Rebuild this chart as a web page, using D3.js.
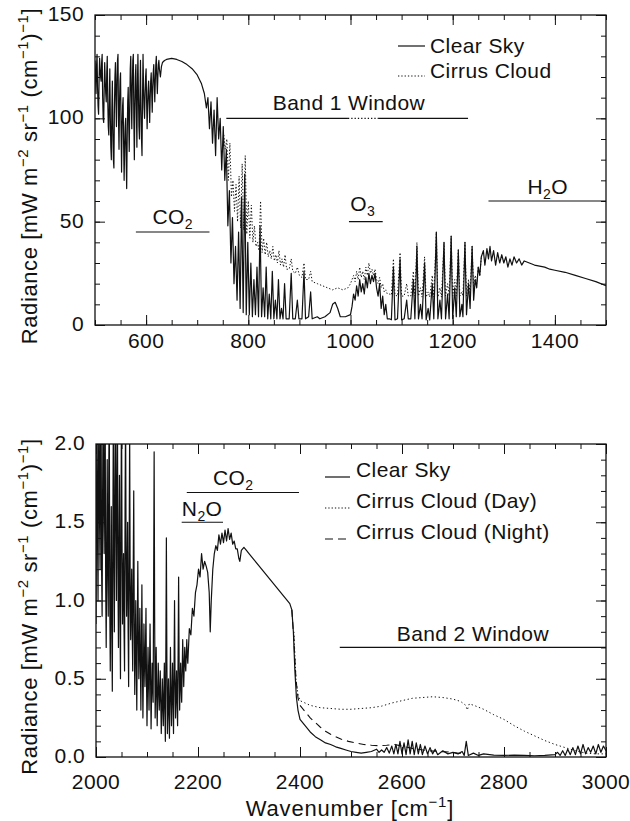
<!DOCTYPE html>
<html><head><meta charset="utf-8">
<script src="https://cdn.jsdelivr.net/npm/d3@7"></script>
<style>
body{margin:0;background:#fff;}
text{font-family:"Liberation Sans",Arial,sans-serif;fill:#111;}
</style></head>
<body><svg id="c" width="630" height="821"></svg>
<script>
// ---------------- DATA ----------------
// Top panel: wavenumber (cm^-1) vs radiance (mW m^-2 sr^-1 (cm^-1)^-1)
const clearSky1 = [[500,128],[501,120],[502,112],[503,125],[504,131],[505,115],[506,106],[507,102],[508,118],[509,129],[510,124],[511,120],[512,118],[513,127],[514,131],[515,110],[516,100],[517,98],[518,115],[519,127],[520,118],[521,112],[522,108],[523,122],[524,130],[525,108],[526,96],[527,92],[528,110],[529,124],[530,100],[531,86],[532,80],[533,104],[534,118],[535,95],[536,80],[537,76],[538,105],[539,120],[540,127],[541,108],[542,96],[543,118],[544,128],[545,131],[546,100],[547,85],[548,108],[549,118],[550,122],[551,95],[552,74],[553,96],[554,106],[555,110],[556,88],[557,70],[558,85],[559,96],[560,100],[561,80],[562,66],[563,90],[564,108],[565,115],[566,98],[567,84],[568,105],[569,124],[570,130],[571,110],[572,95],[573,115],[574,128],[575,131],[576,100],[577,80],[578,105],[579,120],[580,126],[581,104],[582,86],[583,115],[584,131],[585,112],[586,96],[587,90],[588,112],[589,128],[590,104],[591,90],[592,82],[593,110],[594,131],[595,115],[596,105],[597,100],[598,112],[599,120],[600,124],[601,108],[602,95],[603,106],[604,114],[605,118],[606,108],[607,98],[608,110],[609,118],[610,122],[611,112],[612,103],[613,115],[614,122],[615,126],[616,116],[617,108],[618,118],[619,126],[620,130],[621,120],[622,112],[623,120],[624,126],[625,128],[626,124],[628,120],[630,125],[632,127],[636,128],[640,128.5],[650,129],[660,128.5],[670,127.5],[680,126],[690,124],[700,121],[708,117],[714,112],[718,105],[721,110],[724,95],[727,108],[730,88],[733,104],[736,82],[739,110],[742,90],[745,100],[748,75],[751,96],[754,70],[757,85],[760,48],[763,65],[766,30],[769,52],[772,20],[775,38],[778,12],[781,45],[784,8],[787,62],[790,6],[793,73],[796,5],[799,40],[802,5],[805,30],[808,4],[811,22],[814,5],[817,28],[820,4],[823,48],[826,4],[829,18],[832,4],[835,28],[838,3],[841,15],[844,3],[847,26],[850,3],[853,12],[856,3],[859,22],[862,3],[865,8],[868,3],[871,20],[874,3],[880,3],[884,25],[887,3],[892,3],[896,12],[899,3],[905,3],[909,26],[912,3],[918,4],[922,16],[925,3],[935,4],[940,3],[950,4],[960,6],[965,10],[970,11],[975,8],[980,4],[990,4],[1000,5],[1003,9],[1006,15],[1009,12],[1012,19],[1015,14],[1018,22],[1021,16],[1024,20],[1027,15],[1030,23],[1033,18],[1036,25],[1039,20],[1042,24],[1045,21],[1048,25],[1051,18],[1054,14],[1057,20],[1060,8],[1063,14],[1066,5],[1069,10],[1072,3],[1076,3],[1080,2.5],[1084,28],[1087,2.5],[1092,3],[1097,32],[1100,2.5],[1105,3],[1110,12],[1113,3],[1118,3],[1123,22],[1126,3],[1130,38],[1133,3],[1137,10],[1140,3],[1145,30],[1148,2.5],[1152,8],[1155,2.5],[1160,20],[1163,3],[1168,45],[1171,3],[1175,12],[1178,3],[1183,40],[1186,3],[1190,15],[1193,3],[1197,43],[1200,3],[1204,18],[1207,4],[1211,36],[1214,4],[1218,10],[1220,4],[1224,40],[1227,5],[1231,20],[1234,8],[1238,38],[1241,12],[1244,22],[1247,18],[1250,28],[1253,24],[1256,33],[1260,36],[1263,29],[1267,37],[1270,32],[1273,38],[1276,31],[1280,36],[1284,29],[1288,35],[1292,30],[1296,34],[1300,30],[1304,33],[1308,28],[1312,32],[1316,29],[1320,33],[1325,30],[1330,32],[1335,29],[1340,31],[1350,30],[1360,29],[1370,28.5],[1380,28],[1390,27],[1400,26.5],[1420,25.5],[1440,24],[1460,22.5],[1480,21],[1500,19]];

const cirrus1 = [[752,92],[755,85],[758,90],[761,70],[764,88],[767,62],[770,70],[773,55],[776,68],[779,50],[782,72],[785,47],[788,78],[791,46],[794,82],[797,44],[800,60],[803,42],[806,58],[809,40],[812,48],[815,38],[818,40],[821,36],[824,60],[827,35],[830,42],[833,34],[836,40],[839,33],[842,36],[845,32],[848,38],[851,31],[854,34],[857,30],[860,36],[863,29],[866,32],[869,28],[872,34],[875,27],[880,27],[884,32],[887,26],[892,25],[896,28],[900,24],[905,23],[909,30],[912,22],[918,22],[922,26],[925,21],[935,20],[945,19],[955,18],[965,17],[975,18],[985,17],[995,18],[1000,20],[1003,22],[1006,24],[1009,21],[1012,26],[1015,22],[1018,28],[1021,23],[1024,26],[1027,22],[1030,28],[1033,24],[1036,30],[1039,25],[1042,27],[1045,24],[1048,27],[1051,22],[1054,20],[1057,23],[1060,18],[1063,20],[1066,16],[1069,17],[1072,15],[1076,15],[1080,14.5],[1084,32],[1087,14.5],[1092,14],[1097,35],[1100,14],[1105,14],[1110,20],[1113,14],[1118,14],[1123,26],[1126,14],[1130,40],[1133,14],[1137,18],[1140,13.5],[1145,33],[1148,13.5],[1152,16],[1155,13.5],[1160,24],[1163,13.5],[1168,45],[1171,13.5],[1175,18],[1178,13.5],[1183,40],[1186,14],[1190,20],[1193,14],[1197,43],[1200,14],[1204,22],[1207,14],[1211,37],[1214,14],[1218,16],[1220,14],[1224,40],[1227,14],[1231,22],[1234,15],[1238,38],[1241,17],[1244,24],[1247,20],[1250,28],[1253,24],[1256,33]];

// Bottom panel
const clearSky2 = [[2000,0.85],[2001,1.6],[2002,2.3],[2003,1.4],[2004,1.0],[2005,1.9],[2006,2.3],[2007,1.5],[2008,1.2],[2009,2.1],[2010,2.2],[2011,1.2],[2012,0.9],[2013,1.7],[2014,2.3],[2015,1.6],[2016,1.3],[2017,2.0],[2018,2.2],[2019,1.1],[2020,0.7],[2021,1.3],[2022,1.9],[2023,1.2],[2024,0.9],[2025,1.8],[2026,2.3],[2027,1.0],[2028,0.55],[2029,1.1],[2030,1.6],[2031,0.8],[2032,0.42],[2033,1.4],[2034,2.2],[2035,1.3],[2036,0.8],[2037,1.7],[2038,2.3],[2039,1.5],[2040,1.0],[2041,1.8],[2042,2.3],[2043,1.2],[2044,0.7],[2045,1.3],[2046,1.8],[2047,0.9],[2048,0.5],[2049,1.5],[2050,2.3],[2051,1.4],[2052,0.85],[2053,1.1],[2054,1.3],[2055,0.8],[2056,0.55],[2057,1.6],[2058,2.2],[2059,1.3],[2060,0.9],[2061,1.2],[2062,1.5],[2063,0.8],[2064,0.45],[2065,1.3],[2066,2.1],[2067,1.1],[2068,0.75],[2069,1.0],[2070,1.2],[2071,0.8],[2072,0.55],[2073,1.2],[2074,1.7],[2075,0.9],[2076,0.4],[2077,0.7],[2078,1.0],[2079,0.6],[2080,0.3],[2081,0.8],[2082,1.25],[2083,0.8],[2084,0.5],[2085,0.7],[2086,0.95],[2087,0.6],[2088,0.3],[2089,0.7],[2090,1.1],[2091,0.6],[2092,0.25],[2093,0.55],[2094,0.85],[2095,0.6],[2096,0.45],[2097,0.7],[2098,0.95],[2099,0.5],[2100,0.2],[2101,0.45],[2102,0.7],[2103,0.5],[2104,0.3],[2105,0.6],[2106,0.85],[2107,0.5],[2108,0.18],[2109,0.4],[2110,0.6],[2111,0.45],[2112,0.35],[2113,1.1],[2114,1.95],[2115,0.9],[2116,0.25],[2117,0.45],[2118,0.7],[2119,0.4],[2120,0.2],[2121,0.4],[2122,0.6],[2123,0.45],[2124,0.3],[2125,0.4],[2126,0.55],[2127,0.35],[2128,0.15],[2129,0.3],[2130,0.5],[2131,0.35],[2132,0.2],[2133,0.4],[2134,0.6],[2135,0.3],[2136,0.1],[2137,0.7],[2138,1.4],[2139,0.6],[2140,0.15],[2141,0.3],[2142,0.5],[2143,0.3],[2144,0.12],[2145,0.4],[2146,0.7],[2147,0.4],[2148,0.2],[2149,0.4],[2150,0.6],[2151,0.35],[2152,0.15],[2153,0.55],[2154,1.0],[2155,0.5],[2156,0.25],[2157,0.4],[2158,0.55],[2159,0.35],[2160,0.2],[2161,0.65],[2162,1.15],[2163,0.6],[2164,0.3],[2165,0.45],[2166,0.6],[2167,0.45],[2168,0.35],[2169,0.55],[2170,0.75],[2171,0.6],[2172,0.45],[2173,0.58],[2174,0.7],[2175,0.6],[2176,0.55],[2177,0.65],[2178,0.75],[2179,0.65],[2180,0.6],[2183,0.82],[2186,0.78],[2189,0.95],[2192,0.9],[2195,1.05],[2198,1.1],[2201,1.2],[2204,1.15],[2207,1.3],[2210,1.2],[2213,1.25],[2216,1.22],[2219,1.18],[2222,1.05],[2224,0.8],[2226,1.0],[2229,1.2],[2232,1.3],[2235,1.35],[2238,1.32],[2241,1.42],[2244,1.36],[2247,1.43],[2250,1.37],[2253,1.45],[2256,1.38],[2259,1.46],[2262,1.39],[2265,1.43],[2268,1.36],[2271,1.38],[2274,1.33],[2277,1.33],[2280,1.27],[2282,1.25],[2285,1.32],[2290,1.34],[2295,1.32],[2300,1.3],[2310,1.26],[2320,1.22],[2330,1.18],[2340,1.14],[2350,1.1],[2360,1.06],[2370,1.02],[2380,0.98],[2384,0.94],[2387,0.8],[2390,0.55],[2393,0.38],[2396,0.3],[2400,0.24],[2410,0.2],[2420,0.16],[2430,0.13],[2440,0.11],[2450,0.09],[2460,0.08],[2470,0.065],[2480,0.055],[2490,0.045],[2500,0.035],[2510,0.03],[2520,0.025],[2530,0.03],[2540,0.035],[2550,0.05],[2555,0.03],[2560,0.045],[2565,0.03],[2570,0.06],[2575,0.025],[2580,0.07],[2584,0.02],[2588,0.08],[2592,0.02],[2596,0.1],[2600,0.02],[2604,0.09],[2608,0.015],[2612,0.11],[2616,0.02],[2620,0.1],[2624,0.015],[2628,0.09],[2632,0.02],[2636,0.08],[2640,0.015],[2645,0.07],[2650,0.02],[2655,0.06],[2660,0.02],[2665,0.05],[2670,0.015],[2680,0.04],[2690,0.02],[2700,0.03],[2710,0.02],[2718,0.035],[2722,0.01],[2726,0.1],[2730,0.01],[2740,0.025],[2750,0.01],[2760,0.02],[2780,0.012],[2800,0.01],[2820,0.012],[2840,0.01],[2860,0.008],[2880,0.01],[2900,0.015],[2905,0.03],[2910,0.01],[2915,0.04],[2920,0.01],[2925,0.05],[2930,0.015],[2935,0.06],[2940,0.015],[2945,0.07],[2950,0.02],[2955,0.08],[2960,0.02],[2965,0.06],[2970,0.03],[2975,0.07],[2980,0.02],[2985,0.08],[2990,0.03],[2995,0.07],[3000,0.04]];

const cirrusDay2 = [[2388,0.8],[2392,0.5],[2396,0.4],[2400,0.36],[2420,0.33],[2440,0.315],[2460,0.31],[2480,0.305],[2500,0.305],[2520,0.31],[2540,0.315],[2560,0.325],[2580,0.345],[2600,0.36],[2620,0.375],[2640,0.38],[2660,0.385],[2680,0.38],[2700,0.37],[2715,0.355],[2725,0.33],[2728,0.3],[2732,0.34],[2745,0.325],[2760,0.305],[2780,0.27],[2800,0.24],[2820,0.2],[2840,0.165],[2860,0.135],[2880,0.105],[2900,0.08],[2920,0.06],[2940,0.04],[2960,0.025],[2980,0.02],[3000,0.02]];

const cirrusNight2 = [[2384,0.94],[2388,0.75],[2392,0.5],[2396,0.38],[2400,0.33],[2410,0.29],[2420,0.25],[2430,0.22],[2440,0.19],[2450,0.165],[2460,0.145],[2470,0.13],[2480,0.115],[2495,0.1],[2510,0.09],[2525,0.08],[2540,0.075],[2555,0.072],[2570,0.075],[2585,0.08],[2600,0.07],[2620,0.055],[2650,0.04],[2700,0.03],[2720,0.02]];

// tick labels
const topXTicks = [600,800,1000,1200,1400];
const topYTicks = [0,50,100,150];
const botXTicks = [2000,2200,2400,2600,2800,3000];
const botYTicks = [0.0,0.5,1.0,1.5,2.0];

// annotations
const topBands = [
  {sub:["CO","2",""], x0:580, x1:724, v:45, tx:652, tv:49},
  {sub:["O","3",""], x0:997, x1:1063, v:50, tx:1024, tv:55},
  {sub:["H","2","O"], x0:1270, x1:1500, v:60, tx:1386, tv:63.5}
];
const band1 = {segs:[[757,995,"solid"],[995,1054,"dot"],[1054,1230,"solid"]], v:100, tx:997, tv:104, label:"Band 1 Window"};
const botBands = [
  {sub:["CO","2",""], x0:2178, x1:2398, v:1.69, tx:2269, tv:1.74},
  {sub:["N","2","O"], x0:2168, x1:2249, v:1.5, tx:2208, tv:1.54}
];
const band2 = {x0:2478, x1:3000, v:0.70, tx:2739, tv:0.74, label:"Band 2 Window"};

// ---------------- DRAW ----------------
const svg = d3.select("#c");
const FS = 21, LS = 0.4;

function panel(opt){
  const {x0,x1,y0,y1,xd,yd,xt,yt,xMinor,yMinor,fmtY,id,xlOff} = opt;
  const x = d3.scaleLinear().domain(xd).range([x0,x1]);
  const y = d3.scaleLinear().domain(yd).range([y1,y0]);
  const g = svg.append("g");
  g.append("clipPath").attr("id",id).append("rect").attr("x",x0).attr("y",y0).attr("width",x1-x0).attr("height",y1-y0);
  const tk = (ax, size)=>ax.tickSize(size).tickFormat("").tickSizeOuter(0);
  const mk = (axFn, scale, vals, size, tr)=>{
    const a = g.append("g").attr("transform",tr).call(tk(axFn(scale).tickValues(vals), size));
    a.select(".domain").remove();
    a.selectAll("line").attr("stroke","#111").attr("stroke-width",1);
  };
  const xMin = d3.range(xd[0], xd[1]+1e-9, xMinor);
  const yMin = d3.range(yd[0], yd[1]+1e-9, yMinor);
  mk(d3.axisBottom, x, xMin, -5, `translate(0,${y1})`);
  mk(d3.axisBottom, x, xt, -10, `translate(0,${y1})`);
  mk(d3.axisTop, x, xMin, -5, `translate(0,${y0})`);
  mk(d3.axisTop, x, xt, -10, `translate(0,${y0})`);
  mk(d3.axisLeft, y, yMin, -5, `translate(${x0},0)`);
  mk(d3.axisLeft, y, yt, -10, `translate(${x0},0)`);
  mk(d3.axisRight, y, yMin, -5, `translate(${x1},0)`);
  mk(d3.axisRight, y, yt, -10, `translate(${x1},0)`);
  g.selectAll(".xl").data(xt).join("text").attr("x",d=>x(d)).attr("y",y1+xlOff).attr("text-anchor","middle")
    .attr("font-size",FS).attr("letter-spacing",LS).text(d=>d);
  g.selectAll(".yl").data(yt).join("text").attr("x",x0-11).attr("y",d=>y(d)+6).attr("text-anchor","end")
    .attr("font-size",FS).attr("letter-spacing",LS).text(fmtY);
  g.append("rect").attr("x",x0).attr("y",y0).attr("width",x1-x0).attr("height",y1-y0)
    .attr("fill","none").attr("stroke","#111").attr("stroke-width",1.3);
  const ytt = g.append("text").attr("transform",`translate(37,${(y0+y1)/2+6}) rotate(-90)`)
    .attr("text-anchor","middle").attr("font-size",22).attr("letter-spacing",0.6);
  const sup = (s)=>{ ytt.append("tspan").attr("font-size",15).attr("dy",-9).text(s); };
  const nrm = (s)=>{ ytt.append("tspan").attr("dy",9).text(s); };
  ytt.append("tspan").text("Radiance [mW m");
  sup("−2"); nrm(" sr"); sup("−1"); nrm(" (cm"); sup("−1"); nrm(")"); sup("−1"); nrm("]");
  const plot = g.append("g").attr("clip-path",`url(#${id})`);
  return {x,y,g,plot};
}

const line = (P)=>d3.line().x(d=>P.x(d[0])).y(d=>P.y(d[1]));
function subText(g, x, y, parts){
  const t = g.append("text").attr("x",x).attr("y",y).attr("text-anchor","middle").attr("font-size",FS).attr("letter-spacing",LS);
  t.append("tspan").text(parts[0]);
  t.append("tspan").attr("font-size",14).attr("dy",5).text(parts[1]);
  if(parts[2]) t.append("tspan").attr("dy",-5).text(parts[2]);
  return t;
}

// ---- top panel ----
const T = panel({id:"clipT",x0:95,x1:606,y0:15,y1:325,xd:[500,1500],yd:[0,150],xt:topXTicks,yt:topYTicks,xMinor:50,yMinor:10,fmtY:d=>d,xlOff:23});
T.plot.append("path").datum(cirrus1).attr("d",line(T)).attr("fill","none").attr("stroke","#111")
  .attr("stroke-width",1).attr("stroke-dasharray","1.3,2");
T.plot.append("path").datum(clearSky1).attr("d",line(T)).attr("fill","none").attr("stroke","#111")
  .attr("stroke-width",1.2).attr("stroke-linejoin","round");
topBands.forEach(b=>{
  T.g.append("line").attr("x1",T.x(b.x0)).attr("x2",T.x(b.x1)).attr("y1",T.y(b.v)).attr("y2",T.y(b.v)).attr("stroke","#111").attr("stroke-width",1.2);
  subText(T.g, T.x(b.tx), T.y(b.tv), b.sub);
});
band1.segs.forEach(s=>{
  T.g.append("line").attr("x1",T.x(s[0])).attr("x2",T.x(s[1])).attr("y1",T.y(band1.v)).attr("y2",T.y(band1.v))
   .attr("stroke","#111").attr("stroke-width",1.2).attr("stroke-dasharray",s[2]==="dot"?"1.3,2":null);
});
T.g.append("text").attr("x",T.x(band1.tx)).attr("y",T.y(band1.tv)).attr("text-anchor","middle").attr("font-size",FS).attr("letter-spacing",LS).text(band1.label);
const legT = [{t:"Clear Sky",d:null,dy:46},{t:"Cirrus Cloud",d:"1.3,2",dy:76}];
legT.forEach(l=>{
  T.g.append("line").attr("x1",398).attr("x2",425).attr("y1",l.dy).attr("y2",l.dy).attr("stroke","#111").attr("stroke-width",1.2).attr("stroke-dasharray",l.d);
  T.g.append("text").attr("x",430).attr("y",l.dy+(l.d?2:7)).attr("font-size",FS).attr("letter-spacing",LS).text(l.t);
});

// ---- bottom panel ----
const B = panel({id:"clipB",x0:96,x1:606,y0:444,y1:757,xd:[2000,3000],yd:[0,2],xt:botXTicks,yt:botYTicks,xMinor:50,yMinor:0.1,fmtY:d=>d.toFixed(1),xlOff:32});
B.plot.append("path").datum(cirrusDay2).attr("d",line(B)).attr("fill","none").attr("stroke","#111")
  .attr("stroke-width",1).attr("stroke-dasharray","1.3,2.6");
B.plot.append("path").datum(cirrusNight2).attr("d",line(B)).attr("fill","none").attr("stroke","#111")
  .attr("stroke-width",1.1).attr("stroke-dasharray","7,5");
B.plot.append("path").datum(clearSky2).attr("d",line(B)).attr("fill","none").attr("stroke","#111")
  .attr("stroke-width",1.2).attr("stroke-linejoin","round");
botBands.forEach(b=>{
  B.g.append("line").attr("x1",B.x(b.x0)).attr("x2",B.x(b.x1)).attr("y1",B.y(b.v)).attr("y2",B.y(b.v)).attr("stroke","#111").attr("stroke-width",1.2);
  subText(B.g, B.x(b.tx), B.y(b.tv), b.sub);
});
B.g.append("line").attr("x1",B.x(band2.x0)).attr("x2",B.x(band2.x1)).attr("y1",B.y(band2.v)).attr("y2",B.y(band2.v)).attr("stroke","#111").attr("stroke-width",1.2);
B.g.append("text").attr("x",B.x(band2.tx)).attr("y",B.y(band2.tv)).attr("text-anchor","middle").attr("font-size",FS).attr("letter-spacing",LS).text(band2.label);
const legB = [{t:"Clear Sky",d:null,dy:477},{t:"Cirrus Cloud (Day)",d:"1.3,2",dy:508},{t:"Cirrus Cloud (Night)",d:"8,5",dy:539}];
legB.forEach(l=>{
  B.g.append("line").attr("x1",325).attr("x2",350).attr("y1",l.dy).attr("y2",l.dy).attr("stroke","#111").attr("stroke-width",1.2).attr("stroke-dasharray",l.d);
  B.g.append("text").attr("x",356).attr("y",l.dy).attr("font-size",FS).attr("letter-spacing",LS).text(l.t);
});
const xtt = svg.append("text").attr("x",350).attr("y",816).attr("text-anchor","middle").attr("font-size",22).attr("letter-spacing",0.8);
xtt.append("tspan").text("Wavenumber [cm");
xtt.append("tspan").attr("font-size",15).attr("dy",-9).text("−1");
xtt.append("tspan").attr("dy",9).text("]");
</script></body></html>
